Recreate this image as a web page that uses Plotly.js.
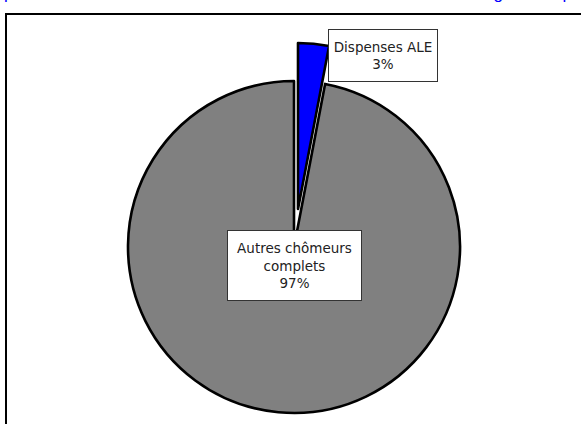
<!DOCTYPE html>
<html>
<head>
<meta charset="utf-8">
<script src="https://cdn.plot.ly/plotly-3.0.1.min.js"></script>
<style>html,body{margin:0;padding:0;background:#fff;}#chart{width:581px;height:424px;}</style>
</head>
<body>
<div id="chart"></div>
<script>
// ---- data ----
const sliceLabels = ['Dispenses ALE', 'Autres chômeurs complets'];
const sliceLabelLines = ['Dispenses ALE', 'Autres chômeurs<br>complets'];
const sliceValues = [3, 97];
const sliceColors = ['#0000FF', '#808080'];
const titleText = "part des chômeurs ALE dans le total des chômeurs indemnisés : global et par région";

// ---- layout helpers (pixels -> paper, margins are zero) ----
const W = 581, H = 424;
const px = v => v / W;
const py = v => 1 - v / H;
const R = 166;
function dom(cx, cy) {
  return { x: [px(cx - R), px(cx + R)], y: [py(cy + R), py(cy - R)] };
}
const total = sliceValues.reduce((a, b) => a + b, 0);
const pct = sliceValues.map(v => Math.round(v / total * 100) + '%');

const transparent = 'rgba(0,0,0,0)';
const base = {
  type: 'pie', labels: sliceLabels, values: sliceValues, sort: false,
  direction: 'clockwise', rotation: 0, textinfo: 'none', hoverinfo: 'label+percent',
  showlegend: false
};
// main pie: only the large slice visible
const pieMain = Object.assign({}, base, {
  domain: dom(294, 247),
  marker: { colors: [transparent, sliceColors[1]], line: { color: [transparent, '#000'], width: [0, 2.6] } }
});
// exploded small slice
const pieExploded = Object.assign({}, base, {
  domain: dom(298, 209),
  marker: { colors: [sliceColors[0], transparent], line: { color: ['#000', transparent], width: [2.6, 0] } }
});

const boxFont = { family: 'DejaVu Sans, Verdana, sans-serif', size: 13.5, color: '#222' };
const annotations = [
  {
    xref: 'paper', yref: 'paper', x: px(328), y: py(29), xanchor: 'left', yanchor: 'top',
    text: sliceLabelLines[0] + '<br>' + pct[0], showarrow: false, align: 'center',
    width: 108, height: 51, borderpad: 0, borderwidth: 1, bordercolor: '#333', bgcolor: '#fff', font: boxFont
  },
  {
    xref: 'paper', yref: 'paper', x: px(227), y: py(230), xanchor: 'left', yanchor: 'top',
    text: sliceLabelLines[1] + '<br>' + pct[1], showarrow: false, align: 'center',
    width: 133, height: 69, borderpad: 0, borderwidth: 1, bordercolor: '#333', bgcolor: '#fff', font: boxFont
  },
  {
    xref: 'paper', yref: 'paper', x: px(3), y: py(4.5), xanchor: 'left', yanchor: 'bottom',
    text: titleText, showarrow: false, align: 'left', borderpad: 0,
    font: { family: 'Liberation Sans, Arial, sans-serif', size: 17, color: '#0000FF' }
  }
];

const layout = {
  width: W, height: H,
  margin: { l: 0, r: 0, t: 0, b: 0 },
  paper_bgcolor: '#fff', plot_bgcolor: '#fff',
  showlegend: false,
  annotations: annotations,
  shapes: [{
    type: 'rect', xref: 'paper', yref: 'paper',
    x0: px(6), x1: px(W + 10), y0: py(H + 10), y1: py(14),
    line: { color: '#000', width: 2 }, fillcolor: transparent, layer: 'below'
  }]
};

Plotly.newPlot('chart', [pieMain, pieExploded], layout, { displayModeBar: false, staticPlot: true });
</script>
</body>
</html>
